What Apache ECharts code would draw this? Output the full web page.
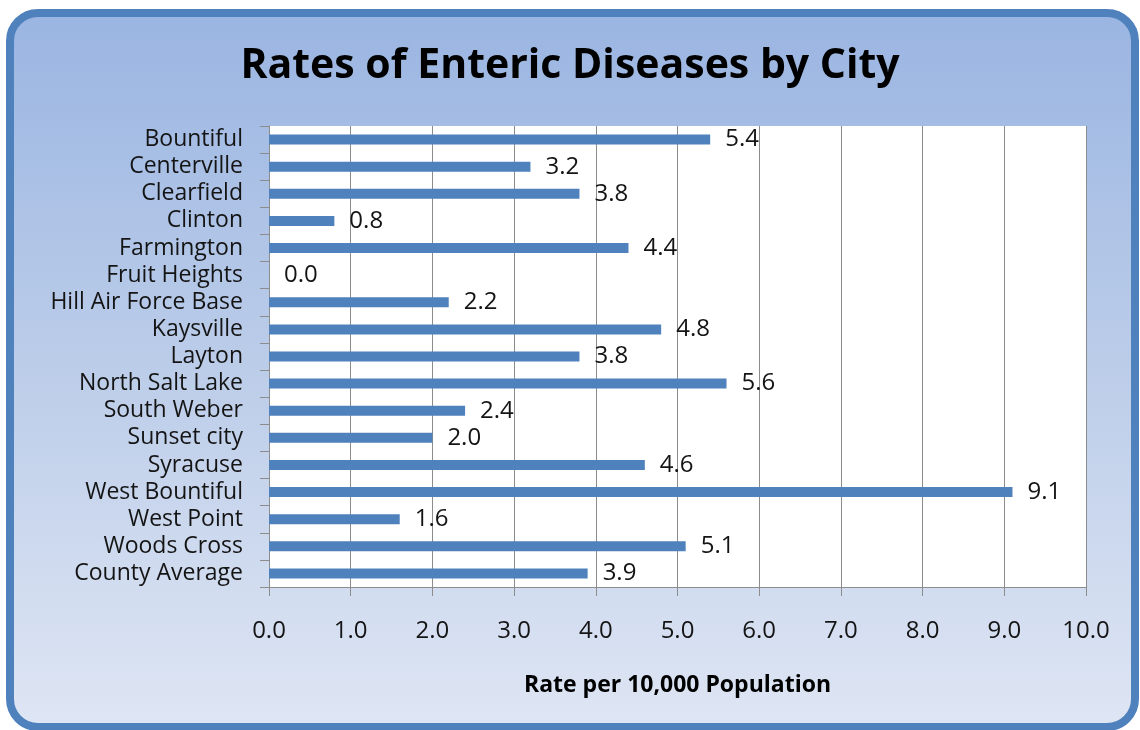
<!DOCTYPE html>
<html>
<head>
<meta charset="utf-8">
<script src="https://cdn.jsdelivr.net/npm/echarts@6/dist/echarts.min.js"></script>
<style>
  html, body { margin: 0; padding: 0; background: #ffffff; }
  #chart { width: 1140px; height: 730px; }
</style>
</head>
<body>
<div id="chart"></div>
<script>
// Enteric disease rates per 10,000 population, by city
const cities = [
  'Bountiful', 'Centerville', 'Clearfield', 'Clinton', 'Farmington',
  'Fruit Heights', 'Hill Air Force Base', 'Kaysville', 'Layton',
  'North Salt Lake', 'South Weber', 'Sunset city', 'Syracuse',
  'West Bountiful', 'West Point', 'Woods Cross', 'County Average'
];
const rates = [5.4, 3.2, 3.8, 0.8, 4.4, 0.0, 2.2, 4.8, 3.8, 5.6, 2.4, 2.0, 4.6, 9.1, 1.6, 5.1, 3.9];
const rateTicks = [0, 1, 2, 3, 4, 5, 6, 7, 8, 9, 10];

const FONT = '"Open Sans", Lato, sans-serif';
const BAR = '#4f81bd';
const GRID = '#8c8c8c';
const TEXT = '#141414';

const chart = echarts.init(document.getElementById('chart'), null, { renderer: 'canvas' });

chart.setOption({
  animation: false,
  backgroundColor: '#ffffff',
  graphic: [
    {
      // rounded panel behind the chart
      type: 'rect',
      z: -10,
      silent: true,
      shape: { x: 10, y: 13, width: 1125, height: 714, r: 28 },
      style: {
        fill: new echarts.graphic.LinearGradient(0, 0, 0, 1, [
          { offset: 0, color: '#9ab5e2' },
          { offset: 0.5, color: '#bccde9' },
          { offset: 1, color: '#dfe6f4' }
        ]),
        stroke: BAR,
        lineWidth: 8
      }
    },
    {
      // white plot area
      type: 'rect',
      z: -5,
      silent: true,
      shape: { x: 269, y: 126, width: 817, height: 461 },
      style: { fill: '#ffffff' }
    }
  ],
  title: {
    text: 'Rates of Enteric Diseases by City',
    left: 'center',
    top: 41,
    textStyle: { fontFamily: FONT, fontSize: 41, fontWeight: 'bold', color: '#000000' }
  },
  grid: { left: 269, right: 54, top: 126, bottom: 143, containLabel: false },
  xAxis: {
    type: 'value',
    min: 0,
    max: 10,
    interval: 1,
    name: 'Rate per 10,000 Population',
    nameLocation: 'middle',
    nameGap: 87,
    nameTextStyle: { fontFamily: FONT, fontSize: 23, fontWeight: 'bold', color: '#000000' },
    axisLine: { show: true, lineStyle: { color: GRID, width: 1 } },
    axisTick: { show: true, length: 9, lineStyle: { color: GRID } },
    axisLabel: {
      fontFamily: FONT, fontSize: 24, color: TEXT, margin: 32,
      formatter: v => rateTicks.includes(v) ? v.toFixed(1) : ''
    },
    splitLine: { show: true, lineStyle: { color: GRID, width: 1 } }
  },
  yAxis: {
    type: 'category',
    data: cities,
    inverse: true,
    axisLine: { show: true, lineStyle: { color: GRID, width: 1 } },
    axisTick: { show: true, length: 9, alignWithLabel: false, lineStyle: { color: GRID } },
    axisLabel: {
      fontFamily: FONT, fontSize: 23, color: TEXT, margin: 26,
      interval: 0, hideOverlap: false, lineHeight: 24, padding: [3, 0, 0, 0]
    },
    splitLine: { show: false }
  },
  series: [{
    type: 'bar',
    data: rates,
    barWidth: 10,
    itemStyle: { color: BAR },
    label: {
      show: true,
      position: 'right',
      distance: 15,
      padding: [4, 0, 0, 0],
      fontFamily: FONT,
      fontSize: 24,
      color: TEXT,
      formatter: p => p.value.toFixed(1)
    }
  }]
});
</script>
</body>
</html>
